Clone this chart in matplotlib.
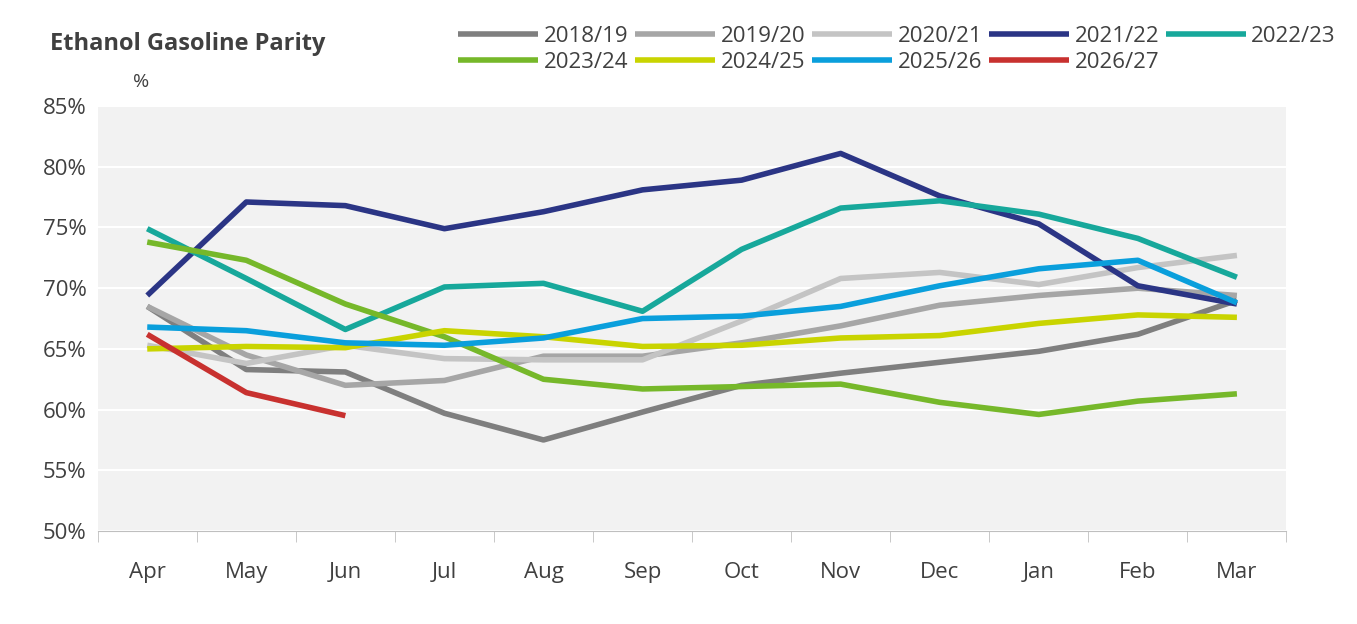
import matplotlib
matplotlib.use("Agg")
import matplotlib.pyplot as plt
from matplotlib.ticker import FixedLocator, PercentFormatter

plt.rcParams["font.family"] = ["Open Sans", "DejaVu Sans"]

months = ["Apr", "May", "Jun", "Jul", "Aug", "Sep", "Oct", "Nov", "Dec", "Jan", "Feb", "Mar"]

s2018 = [68.5, 63.3, 63.1, 59.7, 57.5, 59.8, 62.0, 63.0, 63.9, 64.8, 66.2, 69.0]
s2019 = [68.5, 64.5, 62.0, 62.4, 64.4, 64.4, 65.5, 66.9, 68.6, 69.4, 70.0, 69.4]
s2020 = [65.3, 63.8, 65.3, 64.2, 64.1, 64.1, 67.3, 70.8, 71.3, 70.3, 71.7, 72.7]
s2021 = [69.4, 77.1, 76.8, 74.9, 76.3, 78.1, 78.9, 81.1, 77.6, 75.3, 70.2, 68.7]
s2022 = [74.9, 70.8, 66.6, 70.1, 70.4, 68.1, 73.2, 76.6, 77.2, 76.1, 74.1, 70.9]
s2023 = [73.8, 72.3, 68.7, 66.0, 62.5, 61.7, 61.9, 62.1, 60.6, 59.6, 60.7, 61.3]
s2024 = [65.0, 65.2, 65.1, 66.5, 66.0, 65.2, 65.3, 65.9, 66.1, 67.1, 67.8, 67.6]
s2025 = [66.8, 66.5, 65.5, 65.3, 65.9, 67.5, 67.7, 68.5, 70.2, 71.6, 72.3, 68.8]
s2026 = [66.2, 61.4, 59.5]

series = [
    ("2018/19", s2018, "#7f7f7f"),
    ("2019/20", s2019, "#a6a6a6"),
    ("2020/21", s2020, "#c4c4c4"),
    ("2021/22", s2021, "#2b3585"),
    ("2022/23", s2022, "#17a89b"),
    ("2023/24", s2023, "#76b82a"),
    ("2024/25", s2024, "#c9d400"),
    ("2025/26", s2025, "#0a9fdc"),
    ("2026/27", s2026, "#c8312f"),
]

fig = plt.figure(figsize=(13.57, 6.24), dpi=100)
ax = fig.add_axes([0.072, 0.149, 0.876, 0.681])
ax.set_facecolor("#f2f2f2")

lines = []
for label, vals, color in series:
    ln, = ax.plot(range(len(vals)), vals, color=color, lw=4, label=label, solid_capstyle="butt")
    lines.append(ln)

ax.set_xlim(-0.5, 11.5)
ax.set_ylim(50, 85)
ax.set_yticks(range(50, 86, 5))
ax.yaxis.set_major_formatter(PercentFormatter(decimals=0))
ax.grid(axis="y", color="white", lw=1.5)
ax.set_axisbelow(True)
ax.set_xticks(range(12))
ax.set_xticklabels(months)
ax.xaxis.set_minor_locator(FixedLocator([i - 0.5 for i in range(13)]))
ax.tick_params(axis="x", which="major", length=0, pad=22, labelsize=16, colors="#404040")
ax.tick_params(axis="x", which="minor", length=8, color="#bfbfbf")
ax.tick_params(axis="y", length=0, labelsize=16, colors="#404040", pad=8)
for side in ["top", "right", "left"]:
    ax.spines[side].set_visible(False)
ax.spines["bottom"].set_color("#bfbfbf")

fig.text(0.037, 0.93, "Ethanol Gasoline Parity", fontsize=17, fontweight="bold", color="#404040", va="center")
fig.text(0.098, 0.868, "%", fontsize=14, color="#404040", va="center")

# legend filled row by row
order = [0, 5, 1, 6, 2, 7, 3, 8, 4]
fig.legend([lines[i] for i in order], [series[i][0] for i in order],
           loc="upper left", bbox_to_anchor=(0.323, 0.99), ncol=5, frameon=False,
           fontsize=16, handlelength=3.6, columnspacing=0.3, handletextpad=0.25,
           labelspacing=0.2, labelcolor="#404040")

fig.savefig("out.png", dpi=100)
